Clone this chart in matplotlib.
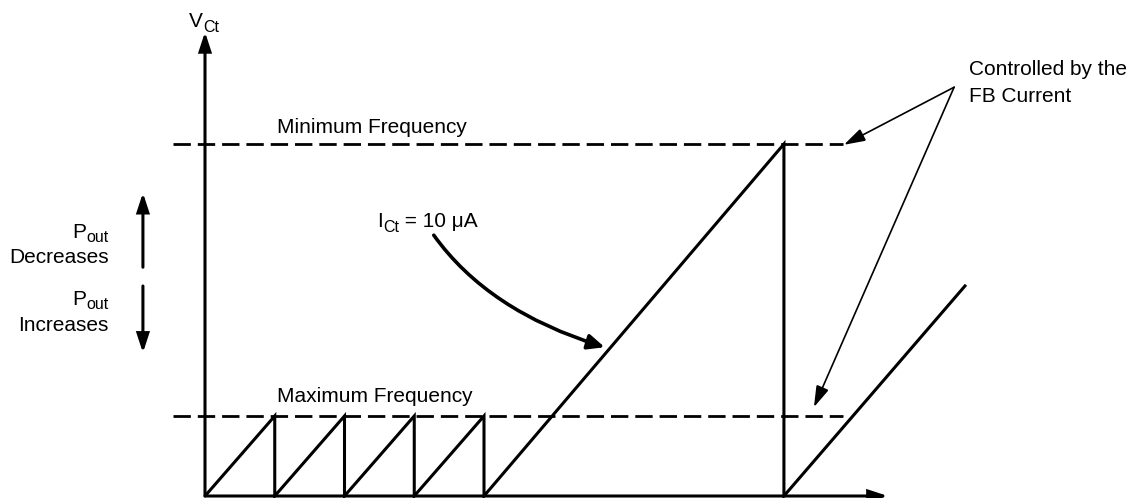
import matplotlib
matplotlib.use("Agg")
import matplotlib.pyplot as plt
from matplotlib.path import Path
from matplotlib.patches import FancyArrowPatch

plt.rcParams["font.family"] = ["Liberation Sans", "DejaVu Sans"]
plt.rcParams["lines.scale_dashes"] = False

# Ct voltage waveform (time in max-frequency periods, voltage in max-frequency levels)
vct_t = [0, 1, 1, 2, 2, 3, 3, 4, 4, 8.3, 8.3, 10.91]
vct_v = [0, 1, 0, 1, 0, 1, 0, 1, 0, 4.4, 0, 2.64]
v_max_freq = 1.0
v_min_freq = 4.4
dash_t = [-0.46, 9.15]

fig = plt.figure(figsize=(11.38, 4.98), dpi=100)
ax = fig.add_axes([0, 0, 1, 1])
ax.set_xlim(-205 / 69.75, (1138 - 205) / 69.75)
ax.set_ylim(-2 / 80, 496 / 80)
ax.axis("off")

FS = 15
SUB = 11.5
DROP = 3.2  # subscript drop, points
LW = 2.2
renderer = fig.canvas.get_renderer()

# threshold levels
for v in (v_max_freq, v_min_freq):
    ax.plot(dash_t, [v, v], color="black", lw=2.0, dashes=(12.5, 5.0),
            solid_capstyle="butt", dash_capstyle="butt")

# waveform
ax.plot(vct_t, vct_v, color="black", lw=LW, solid_joinstyle="miter",
        solid_capstyle="butt")

def arrow(p0, p1, lw=LW, hl=1.1, hw=0.36, ms=10):
    ax.annotate("", xy=p1, xytext=p0,
                arrowprops=dict(arrowstyle=f"-|>,head_length={hl},head_width={hw}",
                                mutation_scale=ms, lw=lw, color="black",
                                shrinkA=0, shrinkB=0, joinstyle="miter"))

def width_pt(s, size):
    t = ax.text(0, 0, s, fontsize=size)
    w = t.get_window_extent(renderer).width * 72 / fig.dpi
    t.remove()
    return w

def sub_label(x, y, main, sub, tail="", ha="left"):
    # main text + lowered, smaller subscript (+ optional tail at main size)
    wm = width_pt(main, FS)
    ws = width_pt(sub, SUB)
    if ha == "right":
        x0 = -(wm + ws)
    else:
        x0 = 0
    kw = dict(xy=(x, y), textcoords="offset points", va="baseline", ha="left")
    ax.annotate(main, xytext=(x0, 0), fontsize=FS, **kw)
    ax.annotate(sub, xytext=(x0 + wm, -DROP), fontsize=SUB, **kw)
    if tail:
        ax.annotate(tail, xytext=(x0 + wm + ws, 0), fontsize=FS, **kw)

# axes
arrow((0, 0), (0, 5.8))
arrow((0, 0), (9.79, 0))

# P_out arrows
arrow((-0.89, 2.86), (-0.89, 3.79))
arrow((-0.89, 2.625), (-0.89, 1.79))

# FB current arrows
arrow((10.74, 5.11), (9.16, 4.39), lw=1.2, hl=1.3, hw=0.4)
arrow((10.74, 5.11), (8.73, 1.11), lw=1.2, hl=1.3, hw=0.4)

# curved I_Ct arrow
curve = Path([(3.28, 3.26), (4.06, 2.31), (5.73, 1.86)],
             [Path.MOVETO, Path.CURVE3, Path.CURVE3])
ax.add_patch(FancyArrowPatch(path=curve, arrowstyle="-|>,head_length=1.0,head_width=0.45",
                             mutation_scale=10, lw=2.6, color="black",
                             capstyle="round"))

# texts
sub_label(-0.23, 5.86, "V", "Ct")
ax.text(1.03, 4.54, "Minimum Frequency", fontsize=FS, va="baseline")
ax.text(1.03, 1.175, "Maximum Frequency", fontsize=FS, va="baseline")
sub_label(2.47, 3.36, "I", "Ct", " = 10 μA")
sub_label(-1.38, 3.225, "P", "out", ha="right")
ax.text(-1.38, 2.91, "Decreases", fontsize=FS, va="baseline", ha="right")
sub_label(-1.38, 2.39, "P", "out", ha="right")
ax.text(-1.38, 2.06, "Increases", fontsize=FS, va="baseline", ha="right")
ax.text(10.95, 5.26, "Controlled by the", fontsize=FS, va="baseline")
ax.text(10.95, 4.925, "FB Current", fontsize=FS, va="baseline")

fig.savefig("out.png", dpi=100)
